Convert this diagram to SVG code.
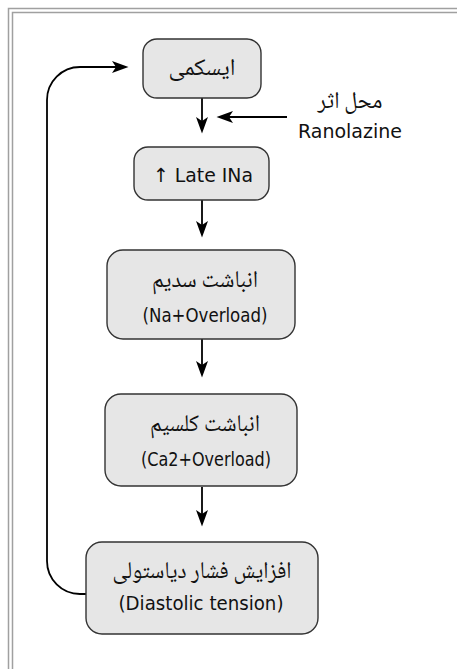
<svg xmlns="http://www.w3.org/2000/svg" width="457" height="669" viewBox="0 0 457 669">
<style>
.frame{fill:none;stroke:#a0a0a0;stroke-width:1.5}
.node{fill:#e6e6e6;stroke:#333;stroke-width:1.4}
.fa{font-family:"Noto Naskh Arabic","DejaVu Sans",sans-serif;font-size:24px;fill:#111;text-anchor:middle}
.en{font-family:"DejaVu Sans",sans-serif;font-size:19.5px;fill:#111;text-anchor:middle}
.conn{fill:none;stroke:#000;stroke-width:1.8}
</style>
<defs>
<marker id="ah" markerUnits="userSpaceOnUse" markerWidth="17" markerHeight="13" viewBox="0 0 17 13" refX="4" refY="6.5" orient="auto">
<path d="M0,0.5 L16.5,6.5 L0,12.5 L4,6.5 Z" fill="#000"/>
</marker>
</defs>
<rect width="457" height="669" fill="#fff"/>
<g id="frame">
<rect class="frame" x="8.5" y="8.5" width="470" height="680"/>
<rect class="frame" x="12.5" y="12.5" width="470" height="680"/>
</g>
<g id="connectors">
<path class="conn" d="M202,98 V121" marker-end="url(#ah)"/>
<path class="conn" d="M287,117 H229" marker-end="url(#ah)"/>
<path class="conn" d="M202,200 V225" marker-end="url(#ah)"/>
<path class="conn" d="M202,339 V365" marker-end="url(#ah)"/>
<path class="conn" d="M202,487 V514" marker-end="url(#ah)"/>
<path class="conn" d="M86,594 H80 A33,33 0 0 1 47,561 V100 A33,33 0 0 1 80,67 H116" marker-end="url(#ah)"/>
</g>
<g id="label-ranolazine">
<text class="fa" x="350" y="108" textLength="65" lengthAdjust="spacingAndGlyphs">محل اثر</text>
<text class="en" x="350" y="138" textLength="104" lengthAdjust="spacingAndGlyphs">Ranolazine</text>
</g>
<g id="n1">
<rect class="node" x="143" y="39" width="118" height="59" rx="14"/>
<text class="fa" x="202" y="75" textLength="67" lengthAdjust="spacingAndGlyphs">ایسکمی</text>
</g>
<g id="n2">
<rect class="node" x="134" y="147" width="135" height="53" rx="14"/>
<text class="en" x="203" y="182" textLength="100" lengthAdjust="spacingAndGlyphs">↑ Late INa</text>
</g>
<g id="n3">
<rect class="node" x="107" y="250" width="188" height="89" rx="16"/>
<text class="fa" x="205" y="287" textLength="106" lengthAdjust="spacingAndGlyphs">انباشت سدیم</text>
<text class="en" x="205" y="322" textLength="125" lengthAdjust="spacingAndGlyphs">(Na+Overload)</text>
</g>
<g id="n4">
<rect class="node" x="105" y="394" width="192" height="92" rx="16"/>
<text class="fa" x="205" y="431" textLength="110" lengthAdjust="spacingAndGlyphs">انباشت کلسیم</text>
<text class="en" x="206" y="466" textLength="130" lengthAdjust="spacingAndGlyphs">(Ca2+Overload)</text>
</g>
<g id="n5">
<rect class="node" x="86" y="542" width="232" height="92" rx="16"/>
<text class="fa" x="202" y="578" textLength="179" lengthAdjust="spacingAndGlyphs">افزایش فشار دیاستولی</text>
<text class="en" x="201" y="610" textLength="165" lengthAdjust="spacingAndGlyphs">(Diastolic tension)</text>
</g>
</svg>
